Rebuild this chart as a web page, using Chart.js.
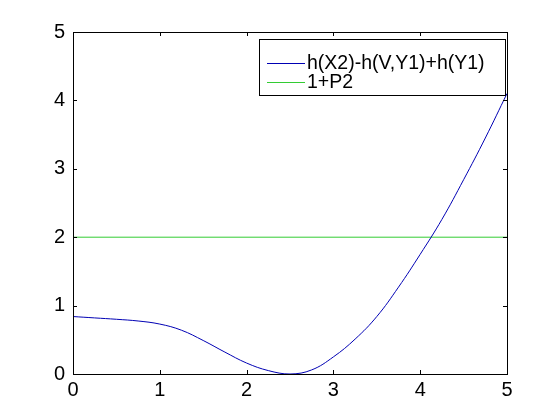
<!DOCTYPE html>
<html>
<head>
<meta charset="utf-8">
<script src="https://cdn.jsdelivr.net/npm/chart.js@4"></script>
<style>
  html, body { margin: 0; padding: 0; background: #ffffff; }
  #wrap { width: 560px; height: 420px; }
</style>
</head>
<body>
<div id="wrap"><canvas id="plot" width="560" height="420"></canvas></div>
<script>
// values
const xValues = [0, 0.25, 0.5, 0.75, 1, 1.25, 1.5, 1.75, 2, 2.25, 2.5, 2.75, 3, 3.25, 3.5, 3.75, 4, 4.25, 4.5, 4.75, 5];
const curveValues = [0.84, 0.82, 0.80, 0.775, 0.73, 0.64, 0.49, 0.32, 0.16, 0.05, 0.0, 0.06, 0.25, 0.51, 0.84, 1.27, 1.75, 2.26, 2.84, 3.45, 4.10];
const levelX = [0, 5];
const levelValues = [2, 2];
const xTicks = [0, 1, 2, 3, 4, 5];
const yTicks = [0, 1, 2, 3, 4, 5];
const seriesLabels = ['h(X2)-h(V,Y1)+h(Y1)', '1+P2'];
const seriesColors = ['#0000b4', '#33cc33'];

const FONT = "'Liberation Sans', Arial, Helvetica, sans-serif";

// box + inward ticks on all four sides, matlab style
const axesBox = {
  id: 'axesBox',
  afterDatasetsDraw(chart) {
    const { ctx, chartArea: a, scales } = chart;
    const len = 4;
    ctx.save();
    ctx.strokeStyle = '#000';
    ctx.lineWidth = 1;
    ctx.beginPath();
    xTicks.forEach(v => {
      const px = Math.round(scales.x.getPixelForValue(v)) + 0.5;
      ctx.moveTo(px, a.bottom); ctx.lineTo(px, a.bottom - len);
      ctx.moveTo(px, a.top); ctx.lineTo(px, a.top + len);
    });
    yTicks.forEach(v => {
      const py = Math.round(scales.y.getPixelForValue(v)) + 0.5;
      ctx.moveTo(a.left, py); ctx.lineTo(a.left + len, py);
      ctx.moveTo(a.right, py); ctx.lineTo(a.right - len, py);
    });
    ctx.stroke();
    ctx.strokeRect(Math.round(a.left) + 0.5, Math.round(a.top) + 0.5,
      Math.round(a.right - a.left), Math.round(a.bottom - a.top));
    ctx.restore();
  }
};

// legend box in the upper right corner of the axes
const innerLegend = {
  id: 'innerLegend',
  afterDraw(chart) {
    const { ctx } = chart;
    const x0 = 259.5, y0 = 39.5, w = 246, h = 56;
    ctx.save();
    ctx.fillStyle = '#fff';
    ctx.fillRect(x0, y0, w, h);
    ctx.strokeStyle = '#000';
    ctx.lineWidth = 1;
    ctx.strokeRect(x0, y0, w, h);
    ctx.font = '19.5px ' + FONT;
    ctx.textBaseline = 'middle';
    chart.data.datasets.forEach((ds, i) => {
      const y = 62.5 + i * 19.5;
      ctx.strokeStyle = ds.borderColor;
      ctx.beginPath();
      ctx.moveTo(267, Math.round(y) + 0.5);
      ctx.lineTo(305, Math.round(y) + 0.5);
      ctx.stroke();
      ctx.fillStyle = '#000';
      ctx.fillText(ds.label, 307, y + 1);
    });
    ctx.restore();
  }
};

new Chart(document.getElementById('plot'), {
  type: 'line',
  data: {
    datasets: [
      {
        label: seriesLabels[0],
        data: xValues.map((x, i) => ({ x, y: curveValues[i] })),
        borderColor: seriesColors[0],
        borderWidth: 1,
        pointRadius: 0,
        tension: 0.4,
      },
      {
        label: seriesLabels[1],
        data: levelX.map((x, i) => ({ x, y: levelValues[i] })),
        borderColor: seriesColors[1],
        borderWidth: 1,
        pointRadius: 0,
      },
    ],
  },
  options: {
    responsive: false,
    animation: false,
    events: [],
    layout: { padding: { top: 32, right: 53, left: 0, bottom: 0 } },
    plugins: {
      legend: { display: false },
      tooltip: { enabled: false },
    },
    scales: {
      x: {
        type: 'linear',
        min: 0,
        max: 5,
        afterFit: s => { s.height = 46; },
        afterBuildTicks: s => { s.ticks = xTicks.map(v => ({ value: v })); },
        grid: { display: false, drawTicks: false },
        border: { display: false },
        ticks: { color: '#000', padding: 4, maxRotation: 0, font: { family: FONT, size: 20 } },
      },
      y: {
        min: 0,
        max: 5,
        afterFit: s => { s.width = 73; },
        afterBuildTicks: s => { s.ticks = yTicks.map(v => ({ value: v })); },
        grid: { display: false, drawTicks: false },
        border: { display: false },
        ticks: { color: '#000', padding: 8, font: { family: FONT, size: 20 } },
      },
    },
  },
  plugins: [axesBox, innerLegend],
});
</script>
</body>
</html>
